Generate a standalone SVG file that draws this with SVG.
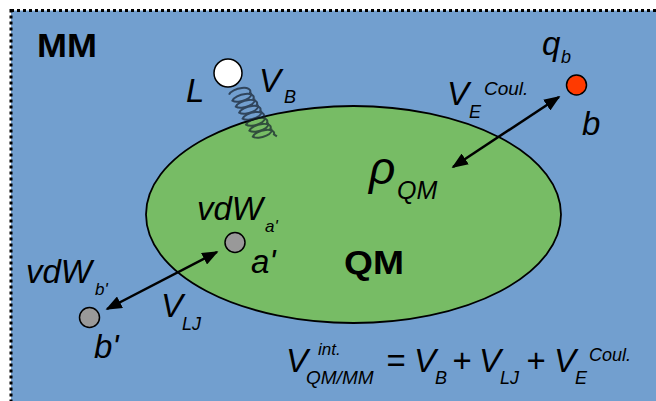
<svg xmlns="http://www.w3.org/2000/svg" width="656" height="401" viewBox="0 0 656 401">
<defs>
<style>
.t{font-family:"Liberation Sans",Arial,sans-serif;font-style:italic;fill:#000}
.b{font-family:"Liberation Sans",Arial,sans-serif;font-weight:bold;fill:#000}
.atom{stroke:#000;stroke-width:1.5}
.arr{stroke:#000;stroke-width:2.5;fill:none;marker-start:url(#ah);marker-end:url(#ah)}
</style>
<marker id="ah" viewBox="0 0 10 8" refX="9" refY="4" markerWidth="6.5" markerHeight="5.2" orient="auto-start-reverse" markerUnits="strokeWidth">
<path d="M0,0 L10,4 L0,8 z" fill="#000"/>
</marker>
</defs>
<g id="mm-region">
<rect x="11" y="10.5" width="700" height="450" fill="#729FCF" stroke="#000" stroke-width="3" stroke-dasharray="3 3"/>
<text class="b" x="37" y="57" font-size="33" textLength="60" lengthAdjust="spacingAndGlyphs">MM</text>
</g>
<g id="qm-region">
<ellipse cx="353.5" cy="214.5" rx="207.5" ry="108.5" fill="#77BC65" stroke="#000" stroke-width="1.8"/>
<text class="b" x="344" y="274" font-size="33" textLength="60" lengthAdjust="spacingAndGlyphs">QM</text>
</g>
<g id="spring">
<path d="M229,94.6 a10 4.5 -15 0 1 21.1 -2.2 a10 4.5 -15 0 1 -17.7 8.2 a10 4.5 -15 0 1 21.1 -2.2 a10 4.5 -15 0 1 -17.7 8.2 a10 4.5 -15 0 1 21.1 -2.2 a10 4.5 -15 0 1 -17.7 8.2 a10 4.5 -15 0 1 21.1 -2.2 a10 4.5 -15 0 1 -17.7 8.2 a10 4.5 -15 0 1 21.1 -2.2 a10 4.5 -15 0 1 -17.7 8.2 a10 4.5 -15 0 1 21.1 -2.2 a10 4.5 -15 0 1 -17.7 8.2 a10 4.5 -15 0 1 21.1 -2.2 a10 4.5 -15 0 1 -17.7 8.2 a10 4.5 -15 0 1 21.1 -2.2 l3 2" fill="none" stroke="#14202c" stroke-opacity="0.7" stroke-width="2"/>
</g>
<g id="atom-L">
<circle class="atom" cx="228" cy="73" r="14" fill="#FFFFFF"/>
<text class="t" x="186" y="102" font-size="33">L</text>
</g>
<g id="label-VB">
<text class="t" x="259" y="92" font-size="33">V</text>
<text class="t" x="284" y="103" font-size="18">B</text>
</g>
<g id="atom-b">
<circle class="atom" cx="576.5" cy="85" r="10" fill="#FF3A00"/>
<text class="t" x="542" y="55" font-size="33">q</text>
<text class="t" x="561" y="63" font-size="18">b</text>
<text class="t" x="582" y="135" font-size="33">b</text>
</g>
<g id="atom-a-prime">
<circle class="atom" cx="235" cy="242.5" r="10" fill="#999999"/>
<text class="t" x="197" y="220" font-size="33">vdW</text>
<text class="t" x="265" y="232" font-size="17">a'</text>
<text class="t" x="251" y="273" font-size="33">a'</text>
</g>
<g id="atom-b-prime">
<circle class="atom" cx="89.5" cy="317.5" r="10" fill="#999999"/>
<text class="t" x="26" y="283" font-size="33">vdW</text>
<text class="t" x="95" y="295" font-size="17">b'</text>
<text class="t" x="94" y="358" font-size="33">b'</text>
</g>
<g id="rho-QM">
<text class="t" x="369" y="184" font-size="46">ρ</text>
<text class="t" x="397" y="199" font-size="25">QM</text>
</g>
<g id="connectors">
<line class="arr" x1="453" y1="167" x2="559" y2="97"/>
<line class="arr" x1="107" y1="309" x2="217" y2="252"/>
</g>
<g id="label-VE">
<text class="t" x="447" y="105" font-size="33">V</text>
<text class="t" x="469" y="118" font-size="18">E</text>
<text class="t" x="484" y="95" font-size="19">Coul.</text>
</g>
<g id="label-VLJ">
<text class="t" x="161" y="317" font-size="33">V</text>
<text class="t" x="182" y="330" font-size="18">LJ</text>
</g>
<g id="formula">
<text class="t" x="286" y="372" font-size="33">V</text>
<text class="t" x="318" y="355" font-size="17">int.</text>
<text class="t" x="306" y="384" font-size="19">QM/MM</text>
<text class="t" x="386" y="372" font-size="33">=</text>
<text class="t" x="414" y="372" font-size="33">V</text>
<text class="t" x="435" y="384" font-size="18">B</text>
<text class="t" x="452" y="372" font-size="33">+</text>
<text class="t" x="479" y="372" font-size="33">V</text>
<text class="t" x="500" y="384" font-size="18">LJ</text>
<text class="t" x="526" y="372" font-size="33">+</text>
<text class="t" x="554" y="372" font-size="33">V</text>
<text class="t" x="575" y="384" font-size="18">E</text>
<text class="t" x="589" y="361" font-size="18">Coul.</text>
</g>
</svg>
